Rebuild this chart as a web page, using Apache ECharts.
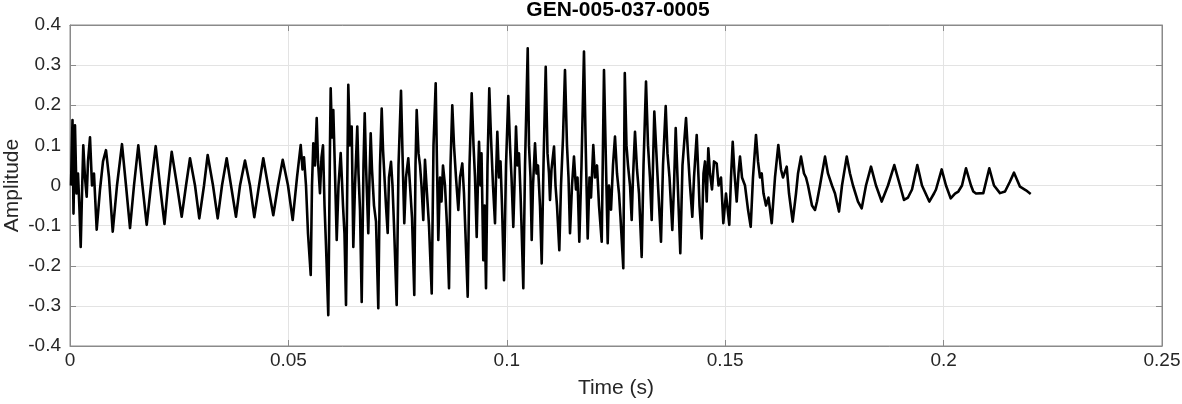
<!DOCTYPE html>
<html>
<head>
<meta charset="utf-8">
<script src="https://cdn.jsdelivr.net/npm/echarts@6/dist/echarts.min.js"></script>
<style>html,body{margin:0;padding:0;background:#fff;}#c{width:1182px;height:404px;}</style>
</head>
<body>
<div id="c"></div>
<script>
const titleText = "GEN-005-037-0005";
const xLabel = "Time (s)";
const yLabel = "Amplitude";
const xTicks = [0, 0.05, 0.1, 0.15, 0.2, 0.25];
const yTicks = [-0.4, -0.3, -0.2, -0.1, 0, 0.1, 0.2, 0.3, 0.4];

// time (s) and amplitude of waveform turning points
const timeOnset = [0.00023,0.00057,0.00080,0.00114,0.00149,0.00183,0.00217,0.00245,0.00275,0.00304,0.00343,0.00382,0.00412,0.00458,0.00504,0.00549,0.00611,0.00687,0.00756,0.00824,0.00893,0.00978];
const ampOnset  = [0.00,0.163,-0.07,0.15,-0.02,0.03,-0.06,-0.153,-0.02,0.10,0.02,-0.028,0.06,0.12,0.0,0.03,-0.11,-0.01,0.06,0.088,0.02,-0.115];

const timeSteady = [0.01076,0.01190,0.01282,0.01374,0.01465,0.01564,0.01648,0.01756,0.01854,0.01962,0.02060,0.02163,0.02244,0.02328,0.02450,0.02557,0.02656,0.02747,0.02862,0.02960,0.03068,0.03152,0.03274,0.03381,0.03480,0.03587,0.03686,0.03800,0.03892,0.04006,0.04121,0.04219,0.04327,0.04425,0.04533,0.04654,0.04762,0.04870,0.04991,0.05098];
const ampSteady  = [0.0,0.103,0.0,-0.106,0.0,0.10,0.01,-0.098,0.0,0.098,0.0,-0.096,0.0,0.084,0.0,-0.078,0.0,0.068,0.0,-0.082,0.0,0.076,0.0,-0.082,0.0,0.068,0.0,-0.078,0.0,0.062,0.0,-0.079,0.0,0.068,0.0,-0.074,0.0,0.064,0.0,-0.086];

const timeLoudA = [0.05197,0.05282,0.05323,0.05357,0.05403,0.05449,0.05511,0.05540,0.05570,0.05609,0.05648,0.05678,0.05723,0.05758,0.05792,0.05827,0.05861,0.05913,0.05952,0.05968,0.05998,0.06028,0.06067,0.06106,0.06147,0.06197,0.06227,0.06250,0.06284,0.06319,0.06371,0.06410,0.06449,0.06486,0.06525,0.06577,0.06605,0.06639,0.06678,0.06719,0.06747,0.06777,0.06829,0.06857,0.06884,0.06914,0.06960,0.07006,0.07058];
const ampLoudA  = [0.02,0.101,0.04,0.07,0.0,-0.12,-0.223,0.0,0.105,0.05,0.168,0.06,-0.019,0.07,0.10,-0.05,-0.15,-0.323,0.10,0.242,0.12,0.188,0.03,-0.136,0.0,0.081,0.01,-0.05,-0.12,-0.298,0.251,0.10,0.147,-0.153,0.0,0.147,0.03,-0.06,-0.29,0.05,0.18,0.05,-0.119,0.02,0.13,0.04,-0.05,-0.09,-0.306];

const timeLoudB = [0.07097,0.07136,0.07166,0.07200,0.07234,0.07273,0.07303,0.07349,0.07383,0.07418,0.07479,0.07521,0.07578,0.07612,0.07653,0.07692,0.07745,0.07784,0.07830,0.07882,0.07910,0.07937,0.07979,0.08013,0.08047,0.08088,0.08127,0.08173,0.08219,0.08281,0.08322,0.08372,0.08402,0.08432,0.08471,0.08505,0.08539,0.08585,0.08631,0.08677,0.08711,0.08752,0.08791,0.08837,0.08890,0.08929,0.08981,0.09020,0.09054,0.09105,0.09146,0.09196,0.09238,0.09272,0.09311,0.09341,0.09364,0.09398,0.09421,0.09462,0.09490,0.09524];
const ampLoudB  = [0.05,0.192,0.09,0.02,-0.05,-0.118,0.02,0.059,0.0,-0.1,-0.298,0.05,0.236,0.08,-0.094,0.02,0.068,0.0,-0.08,-0.273,0.05,0.188,0.08,0.05,0.0,-0.086,0.064,-0.02,-0.1,-0.269,0.1,0.255,0.05,-0.136,0.02,-0.04,0.05,0.0,-0.1,-0.256,0.05,0.2,0.1,0.02,-0.061,0.02,0.055,-0.02,-0.12,-0.277,0.05,0.23,0.1,0.02,-0.128,0.02,0.109,0.0,0.08,-0.186,-0.05,-0.256];

const timeLoudC = [0.09558,0.09599,0.09638,0.09684,0.09730,0.09753,0.09783,0.09821,0.09856,0.09890,0.09936,0.09982,0.10034,0.10073,0.10108,0.10149,0.10176,0.10211,0.10245,0.10279,0.10314,0.10337,0.10378,0.10417,0.10479,0.10508,0.10543,0.10570,0.10600,0.10646,0.10680,0.10714,0.10760,0.10799,0.10840,0.10891,0.10932,0.10966,0.10989,0.11023,0.11081,0.11115,0.11149,0.11202,0.11241,0.11287,0.11332,0.11378,0.11413,0.11447,0.11493,0.11538,0.11584,0.11619,0.11660,0.11710,0.11767,0.11806,0.11852,0.11893,0.11928,0.11980];
const ampLoudC  = [0.05,0.242,0.12,0.0,-0.094,0.02,0.134,0.02,0.06,-0.05,-0.236,0.05,0.223,0.1,0.02,-0.103,0.0,0.147,0.05,0.08,-0.02,-0.1,-0.256,0.05,0.342,0.1,0.02,-0.136,0.0,0.105,0.03,0.05,-0.05,-0.194,0.05,0.296,0.08,0.03,-0.036,0.04,0.097,0.0,-0.05,-0.161,0.0,0.12,0.288,0.1,0.02,-0.119,0.0,0.072,-0.01,0.02,-0.14,0.05,0.334,0.1,-0.132,0.02,-0.03,0.101];

const timeLoudD = [0.12019,0.12065,0.12111,0.12173,0.12202,0.12225,0.12271,0.12310,0.12340,0.12386,0.12431,0.12477,0.12523,0.12569,0.12603,0.12667,0.12701,0.12740,0.12775,0.12821,0.12859,0.12889,0.12935,0.12981,0.13027,0.13088,0.13130,0.13187,0.13233,0.13278,0.13317,0.13347,0.13377,0.13416,0.13462,0.13530,0.13576,0.13638,0.13679,0.13725,0.13789,0.13828,0.13867,0.13908,0.13972,0.14022,0.14103,0.14148,0.14194,0.14247];
const ampLoudD  = [0.02,0.05,-0.05,-0.14,0.1,0.288,0.05,-0.144,0.0,-0.06,0.05,0.122,0.03,-0.02,-0.08,-0.206,0.28,0.1,0.05,0.0,-0.086,0.02,0.134,0.04,-0.02,-0.178,0.05,0.259,0.1,0.02,-0.086,0.05,0.184,0.1,0.0,-0.14,0.05,0.198,0.08,0.02,-0.111,0.0,0.143,0.02,-0.169,0.05,0.168,0.08,0.0,-0.078];

const timeDecay = [0.14286,0.14348,0.14389,0.14412,0.14462,0.14503,0.14538,0.14577,0.14613,0.14652,0.14698,0.14744,0.14805,0.14847,0.14904,0.14957,0.15018,0.15094,0.15133,0.15172,0.15213,0.15263,0.15304,0.15339,0.15385,0.15453,0.15522,0.15584,0.15636,0.15705,0.15751,0.15797,0.15836,0.15877,0.15934,0.15991,0.16065,0.16140,0.16216,0.16277,0.16323,0.16408,0.16461,0.16545,0.16621,0.16667,0.16735,0.16804,0.16850,0.16896,0.16987,0.17056,0.17102,0.17170,0.17285,0.17353,0.17445,0.17514,0.17605,0.17674,0.17782,0.17857,0.17926,0.18040,0.18125,0.18223,0.18338,0.18452,0.18583,0.18727,0.18871,0.19002,0.19093,0.19185,0.19277,0.19398,0.19505,0.19673,0.19780,0.19826,0.19956,0.20055,0.20162,0.20261,0.20337,0.20421,0.20513,0.20627,0.20680,0.20742,0.20909,0.21046,0.21154,0.21291,0.21406,0.21520,0.21612,0.21749,0.21886,0.21994];
const ampDecay  = [0.02,0.126,0.02,-0.05,-0.132,0.03,0.06,-0.04,0.093,0.03,-0.01,0.06,0.055,0.0,0.02,-0.094,-0.02,-0.098,0.02,0.109,0.03,-0.04,0.03,0.072,0.02,0.0,-0.06,-0.103,0.02,0.126,0.06,0.02,0.03,-0.02,-0.05,-0.03,-0.094,0.02,0.101,0.04,0.02,0.047,-0.02,-0.09,-0.02,0.03,0.072,0.03,0.02,0.0,-0.05,-0.061,-0.04,0.0,0.072,0.03,0.0,-0.02,-0.065,0.0,0.072,0.03,0.0,-0.04,-0.057,0.0,0.047,0.0,-0.04,0.0,0.051,0.0,-0.036,-0.03,-0.01,0.051,0.0,-0.04,-0.02,-0.01,0.04,0.0,-0.032,-0.02,-0.015,0.0,0.043,0.0,-0.015,-0.02,-0.019,0.043,0.0,-0.019,-0.015,0.01,0.032,-0.003,-0.012,-0.021];

const times = timeOnset.concat(timeSteady, timeLoudA, timeLoudB, timeLoudC, timeLoudD, timeDecay);
const amps = ampOnset.concat(ampSteady, ampLoudA, ampLoudB, ampLoudC, ampLoudD, ampDecay);
const data = times.map((t, i) => [t, amps[i]]);

const fmt = v => String(parseFloat(v.toFixed(3)));
const font = "Liberation Sans, Arial, sans-serif";
const tickCol = "#262626";
const boxCol = "#8a8a8a";
const gridCol = "#e3e3e3";

const chart = echarts.init(document.getElementById('c'), null, {renderer: 'canvas'});
chart.setOption({
  animation: false,
  backgroundColor: '#fff',
  title: {text: titleText, left: 618, top: 0, padding: 0, textAlign: 'center',
    textStyle: {fontFamily: font, fontSize: 21, fontWeight: 'bold', color: '#000'}},
  grid: {left: 70, right: 20, top: 25, bottom: 58, show: true, borderColor: boxCol, borderWidth: 1,
    containLabel: false, outerBoundsMode: 'none'},
  xAxis: [{
    type: 'value', min: xTicks[0], max: xTicks[xTicks.length-1], interval: 0.05,
    name: xLabel, nameLocation: 'middle', nameGap: 32, nameMoveOverlap: false,
    nameTextStyle: {fontFamily: font, fontSize: 21, color: tickCol},
    axisLine: {show: true, onZero: false, lineStyle: {color: boxCol}},
    axisTick: {show: true, inside: true, length: 6, lineStyle: {color: boxCol}},
    axisLabel: {fontFamily: font, fontSize: 19, color: tickCol, margin: 5, formatter: fmt, hideOverlap: false},
    splitLine: {show: true, lineStyle: {color: gridCol, width: 1}}
  }, {
    type: 'value', position: 'top', min: xTicks[0], max: xTicks[xTicks.length-1], interval: 0.05,
    axisLine: {show: true, onZero: false, lineStyle: {color: boxCol}},
    axisTick: {show: true, inside: true, length: 6, lineStyle: {color: boxCol}},
    axisLabel: {show: false}, splitLine: {show: false}
  }],
  yAxis: [{
    type: 'value', min: yTicks[0], max: yTicks[yTicks.length-1], interval: 0.1,
    name: yLabel, nameLocation: 'middle', nameGap: 47, nameRotate: 90, nameMoveOverlap: false,
    nameTextStyle: {fontFamily: font, fontSize: 21, color: tickCol},
    axisLine: {show: true, onZero: false, lineStyle: {color: boxCol}},
    axisTick: {show: true, inside: true, length: 6, lineStyle: {color: boxCol}},
    axisLabel: {fontFamily: font, fontSize: 19, color: tickCol, margin: 9, formatter: fmt, hideOverlap: false},
    splitLine: {show: true, lineStyle: {color: gridCol, width: 1}}
  }, {
    type: 'value', position: 'right', min: yTicks[0], max: yTicks[yTicks.length-1], interval: 0.1,
    axisLine: {show: true, onZero: false, lineStyle: {color: boxCol}},
    axisTick: {show: true, inside: true, length: 6, lineStyle: {color: boxCol}},
    axisLabel: {show: false}, splitLine: {show: false}
  }],
  series: [{
    type: 'line', data: data, showSymbol: false, symbol: 'none',
    lineStyle: {color: '#000', width: 2.6, join: 'round'}
  }]
});
</script>
</body>
</html>
